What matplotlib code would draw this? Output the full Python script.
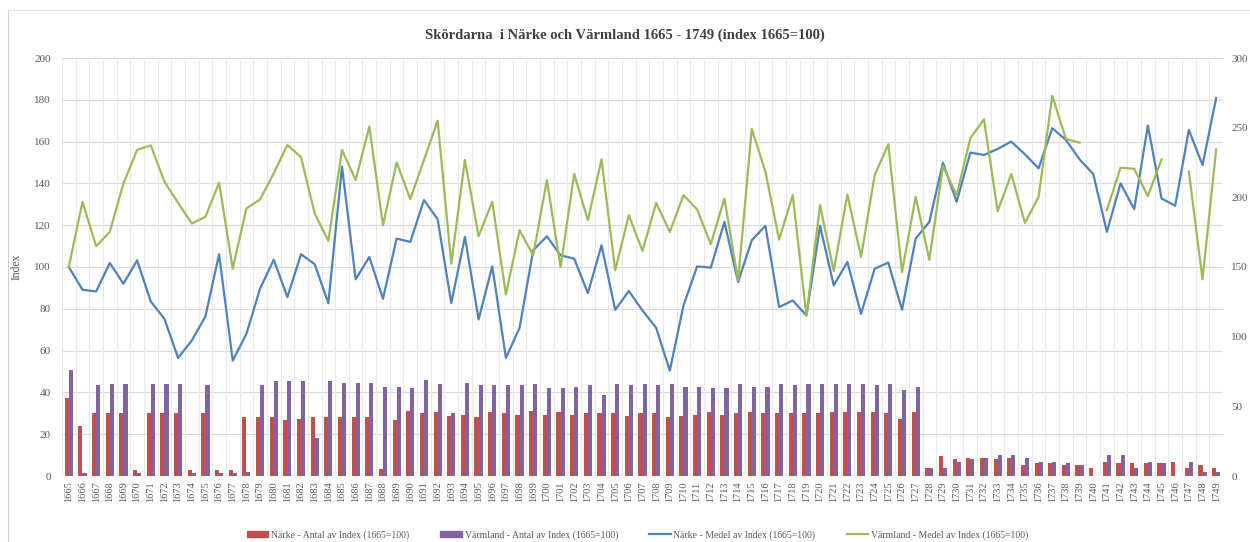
import numpy as np
import matplotlib
matplotlib.use("Agg")
import matplotlib.pyplot as plt
from matplotlib.patches import Patch
from matplotlib.lines import Line2D

YEARS = list(range(1665, 1750))

# mean index per year (left axis)
NARKE_MEDEL = [
    100, 89.1, 88.3, 101.9, 92, 103.2, 83.5, 75.2, 56.5, 64.8,
    76.3, 106.1, 55.2, 68, 89.6, 103.5, 85.6, 106.1, 101.3, 82.7,
    148, 94.1, 104.8, 84.8, 113.6, 112, 132, 122.9, 82.7, 114.4,
    74.9, 100.3, 56.5, 70.9, 108, 114.7, 105.6, 104, 87.5, 110.4,
    79.5, 88.5, 79.2, 70.9, 50.4, 81.6, 100.3, 99.7, 121.6, 92.8,
    112.8, 119.7, 80.8, 84, 76.8, 119.7, 91.2, 102.4, 77.6, 99.2,
    102.1, 79.5, 113.6, 121.6, 149.9, 131.2, 154.7, 153.6, 156.5, 160,
    153.9, 147.2, 166.4, 160.8, 151.5, 144.5, 116.8, 140, 127.7, 167.7,
    132.8, 129.3, 165.6, 148.8, 180.8,
]
VARMLAND_MEDEL = [
    100, 131.2, 109.9, 116.8, 140, 156, 158.2, 140.8, 130.7, 120.8,
    124, 140.3, 99.2, 128, 132.3, 144.8, 158.4, 152.5, 125.6, 112.5,
    156, 141.6, 167.2, 120, 150, 132.5, 151.2, 170, 101.6, 151.2,
    114.7, 131.2, 86.9, 117.6, 105.6, 141.6, 100, 144.5, 122.4, 151.5,
    98.4, 124.8, 107.7, 130.7, 116.8, 134.4, 127.5, 110.9, 132.8, 93.6,
    166.1, 145.6, 113.1, 134.4, 76.8, 129.6, 98.1, 134.7, 104.8, 144,
    158.7, 97.6, 133.6, 103.5, 148.3, 134.4, 161.6, 170.7, 126.7, 144.5,
    121.1, 133.6, 181.9, 161.3, 159.5, np.nan, 127.2, 147.5, 147, 133.9,
    151.5, np.nan, 145.6, 94.1, 156.3,
]
# number of observations per year (right axis)
NARKE_ANTAL = [
    56, 36, 45, 45, 45, 4, 45, 45, 45, 4,
    45, 4, 4, 42, 42, 42, 40, 41, 42, 42,
    42, 42, 42, 5, 40, 47, 45, 46, 43, 44,
    42, 46, 45, 44, 47, 44, 46, 44, 45, 45,
    45, 43, 45, 45, 42, 43, 44, 46, 44, 45,
    46, 45, 45, 45, 45, 45, 46, 46, 46, 46,
    45, 41, 46, 6, 14, 12, 13, 13, 12, 13,
    8, 9, 9, 8, 8, 6, 10, 9, 9, 9,
    9, 10, 6, 8, 6,
]
VARMLAND_ANTAL = [
    76, 2, 65, 66, 66, 2, 66, 66, 66, 2,
    65, 2, 2, 3, 65, 68, 68, 68, 27, 68,
    67, 67, 67, 64, 64, 63, 69, 66, 45, 67,
    65, 65, 65, 65, 66, 63, 63, 64, 65, 58,
    66, 65, 66, 65, 66, 64, 64, 63, 63, 66,
    64, 64, 66, 65, 66, 66, 66, 66, 66, 65,
    66, 62, 64, 6, 6, 10, 12, 13, 15, 15,
    13, 10, 10, 9, 8, 0, 15, 15, 6, 10,
    9, 0, 10, 3, 3,
]

RED, PURPLE, BLUE, GREEN = "#C0504D", "#8064A2", "#4F81BD", "#9BBB59"
GRID = "#D9D9D9"
TXT = "#595959"
SERIF = ["Liberation Serif", "DejaVu Serif"]

plt.rcParams["font.family"] = SERIF

fig = plt.figure(figsize=(12.5, 5.42), dpi=100)
ax = fig.add_axes([62 / 1250, 1 - 476 / 542, (1223 - 62) / 1250, (476 - 58) / 542])
ax2 = ax.twinx()

x = np.arange(len(YEARS))
w = 0.3

# bars on the secondary axis, lines on the primary one
ax2.bar(x - w / 2, NARKE_ANTAL, w, color=RED, zorder=2)
ax2.bar(x + w / 2, VARMLAND_ANTAL, w, color=PURPLE, zorder=2)
ax.plot(x, NARKE_MEDEL, color=BLUE, lw=1.6, zorder=3)
ax.plot(x, VARMLAND_MEDEL, color=GREEN, lw=1.6, zorder=3)

ax.set_zorder(ax2.get_zorder() + 1)
ax.patch.set_visible(False)

ax.set_xlim(-0.5, len(YEARS) - 0.5)
ax.set_ylim(0, 200)
ax2.set_ylim(0, 300)
ax.set_yticks(range(0, 201, 20))
ax2.set_yticks(range(0, 301, 50))

ax.set_xticks(x)
ax.set_xticklabels([str(y) for y in YEARS], rotation=90, fontsize=7.5, color=TXT)
ax.tick_params(axis="x", which="both", length=0, pad=4)
ax.tick_params(axis="y", length=0, labelsize=8, labelcolor=TXT, pad=8)
ax2.tick_params(axis="y", length=0, labelsize=8, labelcolor=TXT, pad=6)

# horizontal grid drawn on the bar axis so it sits behind everything
for v in range(0, 201, 20):
    ax2.axhline(v * 1.5, color=GRID, lw=0.8, zorder=0)
for b in list(x[:-1] + 0.5) + [-0.5, len(YEARS) - 0.5]:
    ax2.axvline(b, color="#E8E8E8", lw=0.8, zorder=0)

for a in (ax, ax2):
    for s in a.spines.values():
        s.set_visible(False)

ax.set_ylabel("Index", fontsize=8.5, color=TXT, labelpad=8)

fig.text(0.5, 1 - 35 / 542, "Skördarna  i Närke och Värmland 1665 - 1749 (index 1665=100)",
         ha="center", va="center", fontsize=10.5, fontweight="bold", color="#404040")

handles = [
    Patch(color=RED, label="Närke - Antal av Index (1665=100)"),
    Patch(color=PURPLE, label="Värmland - Antal av Index (1665=100)"),
    Line2D([], [], color=BLUE, lw=1.6, label="Närke - Medel av Index (1665=100)"),
    Line2D([], [], color=GREEN, lw=1.6, label="Värmland - Medel av Index (1665=100)"),
]
fig.legend(handles=handles, loc="center", bbox_to_anchor=(0.51, 1 - 535 / 542), ncol=4,
           frameon=False, fontsize=7, columnspacing=3.2, handlelength=2.2,
           handleheight=0.5, handletextpad=0.3, labelcolor=TXT)

# light chart frame
fig.add_artist(plt.Line2D([8 / 1250, 8 / 1250], [0, 1 - 10 / 542], color="#D0D0D0", lw=0.8))
fig.add_artist(plt.Line2D([8 / 1250, 1], [1 - 10 / 542, 1 - 10 / 542], color="#E4E4E4", lw=0.8))

fig.savefig("out.png", dpi=100)
